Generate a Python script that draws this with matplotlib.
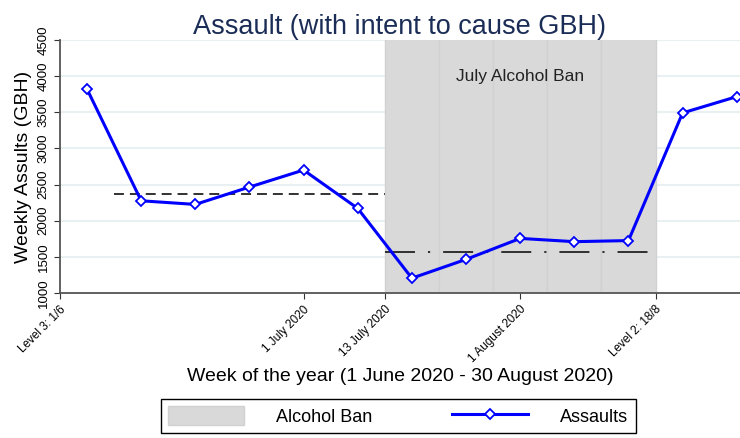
import matplotlib.pyplot as plt
import numpy as np

plt.rcParams['font.family'] = ['Liberation Sans', 'DejaVu Sans']

# weekly assaults (GBH), 1 June - 30 August 2020
weeks = np.arange(1, 14)
assaults = [3820, 2275, 2225, 2465, 2700, 2170, 1205, 1465, 1755, 1710, 1725, 3490, 3715]

ban_weeks = [7, 8, 9, 10, 11]
pre_mean = np.mean(assaults[1:6])
ban_mean = np.mean(assaults[6:11])

tick_pos = [0.5, 5, 6.5, 9, 11.5]
tick_labels = ['Level 3: 1/6', '1 July 2020', '13 July 2020', '1 August 2020', 'Level 2: 18/8']

fig = plt.figure(figsize=(7.4, 4.38), dpi=100)
ax = fig.add_axes([0.081, 0.331, 0.919, 0.578])

bars = ax.bar(ban_weeks, [5000] * len(ban_weeks), width=1, bottom=0, color='#d9d9d9',
              edgecolor='#d1d1d1', linewidth=1, label='Alcohol Ban', zorder=1)

line, = ax.plot(weeks, assaults, color='#0000ff', lw=2.2, marker='D', ms=5.5,
                mfc='white', mec='#0000ff', mew=1.3, label='Assaults', zorder=4)

ax.plot([1.5, 6.5], [pre_mean, pre_mean], color='#222222', lw=1.3,
        dashes=(5.5, 3.3), zorder=3)
ax.plot([6.5, 11.5], [ban_mean, ban_mean], color='#222222', lw=1.3,
        dashes=(16.6, 7.2, 1.2, 7.2), zorder=3)

ax.text(9, 4000, 'July Alcohol Ban', ha='center', va='center', fontsize=12.5, color='#222222')

ax.set_xlim(0.5, 13.06)
ax.set_ylim(1000, 4500)
ax.set_yticks(np.arange(1000, 4501, 500))
ax.set_xticks(tick_pos)
ax.set_xticklabels(tick_labels, rotation=45, ha='right', va='top',
                   rotation_mode='anchor', fontsize=8.5)
for lbl in ax.get_yticklabels():
    lbl.set_rotation(90)
    lbl.set_va('center')
    lbl.set_fontsize(9.5)

ax.yaxis.grid(True, color='#e9f0f2', lw=1.5)
ax.set_axisbelow(True)
for s in ['top', 'right']:
    ax.spines[s].set_visible(False)
for s in ['left', 'bottom']:
    ax.spines[s].set_color('#555555')
    ax.spines[s].set_linewidth(1.3)
ax.tick_params(direction='out', length=4, color='#333333')

ax.set_title('Assault (with intent to cause GBH)', fontsize=19.5, color='#1b2d56', pad=-1)
ax.set_ylabel('Weekly Assults (GBH)', fontsize=14, labelpad=4)
ax.set_xlabel('Week of the year (1 June 2020 - 30 August 2020)', fontsize=14, labelpad=2)

fig.legend(handles=[bars, line], labels=['Alcohol Ban', 'Assaults'],
           loc='center', bbox_to_anchor=(0.538, 0.0505), ncol=2, fontsize=13,
           frameon=True, fancybox=False, edgecolor='black', framealpha=1,
           handlelength=4.2, handleheight=1.2, handletextpad=1.8, columnspacing=4.4,
           borderpad=0.4)

fig.savefig('out.png', dpi=100)
